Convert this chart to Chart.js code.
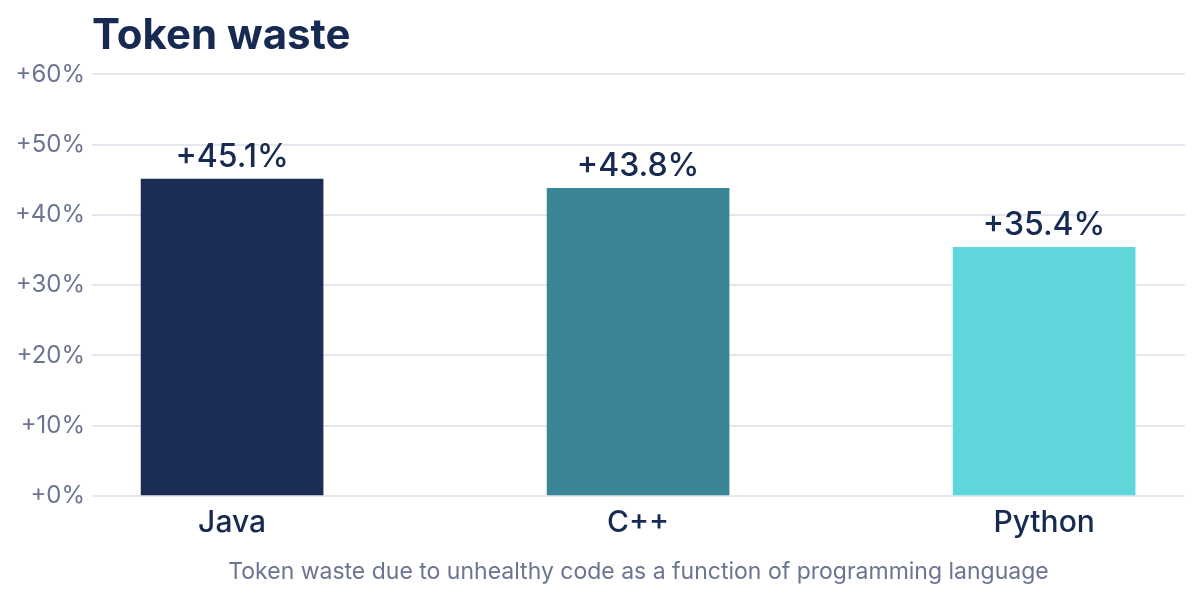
<!DOCTYPE html>
<html>
<head>
<meta charset="utf-8">
<script src="https://cdn.jsdelivr.net/npm/chart.js@4"></script>
<style>
  html, body { margin: 0; padding: 0; background: #fff; }
  #wrap { width: 1200px; height: 600px; }
</style>
</head>
<body>
<div id="wrap"><canvas id="barChart"></canvas></div>
<script>
var categories = ['Java', 'C++', 'Python'];
var wasteValues = [45.1, 43.8, 35.4];
var barColors = ['#1b2d54', '#3a8697', '#5fd6dc'];
var yTicks = [0, 10, 20, 30, 40, 50, 60];

var navy = '#172a52';
var grey = '#6b7592';
var fontName = 'Inter, "Noto Sans", sans-serif';

// value labels above each bar
var barLabels = {
    id: 'barLabels',
    afterDatasetsDraw: function (chart) {
        var ctx = chart.ctx;
        var meta = chart.getDatasetMeta(0);
        ctx.save();
        ctx.font = '500 32px ' + fontName;
        ctx.fillStyle = navy;
        ctx.textAlign = 'center';
        ctx.textBaseline = 'alphabetic';
        meta.data.forEach(function (bar, i) {
            ctx.fillText('+' + wasteValues[i].toFixed(1) + '%', bar.x, bar.y - 12);
        });
        ctx.restore();
    }
};

var points = categories.map(function (c, i) {
    return { x: i, y: wasteValues[i] };
});

var barChart = new Chart(document.getElementById('barChart'), {
    type: 'bar',
    data: {
        datasets: [{
            data: points,
            backgroundColor: barColors,
            borderWidth: 0,
            barThickness: 182
        }]
    },
    plugins: [barLabels],
    options: {
        responsive: true,
        maintainAspectRatio: false,
        animation: false,
        layout: { padding: { left: 0, right: 15, top: 0, bottom: 0 } },
        plugins: {
            legend: { display: false },
            tooltip: { enabled: false },
            title: {
                display: true,
                text: 'Token waste',
                align: 'start',
                fullSize: false,
                color: navy,
                font: { family: fontName, size: 42, weight: 'bold' },
                padding: { top: 11, bottom: 13 }
            }
        },
        scales: {
            x: {
                type: 'linear',
                bounds: 'data',
                offset: false,
                min: -0.345,
                max: 2.347,
                grid: { display: false, offset: false },
                border: { display: false },
                afterBuildTicks: function (scale) {
                    scale.ticks = categories.map(function (c, i) { return { value: i }; });
                },
                afterFit: function (scale) { scale.height = 104; },
                ticks: {
                    color: navy,
                    font: { family: fontName, size: 30, weight: '500' },
                    padding: 1,
                    callback: function (v) { return categories[v]; }
                },
                title: {
                    display: true,
                    text: 'Token waste due to unhealthy code as a function of programming language',
                    color: grey,
                    font: { family: fontName, size: 23 },
                    padding: { top: 0, bottom: 14 }
                }
            },
            y: {
                min: 0,
                max: 60,
                afterBuildTicks: function (scale) {
                    scale.ticks = yTicks.map(function (v) { return { value: v }; });
                },
                afterFit: function (scale) { scale.width = 92; },
                grid: { color: '#e5e7ee', lineWidth: 2, drawTicks: false },
                border: { display: false },
                ticks: {
                    color: grey,
                    font: { family: fontName, size: 24 },
                    padding: 7,
                    callback: function (v) { return '+' + v + '%'; }
                }
            }
        }
    }
});
</script>
</body>
</html>
